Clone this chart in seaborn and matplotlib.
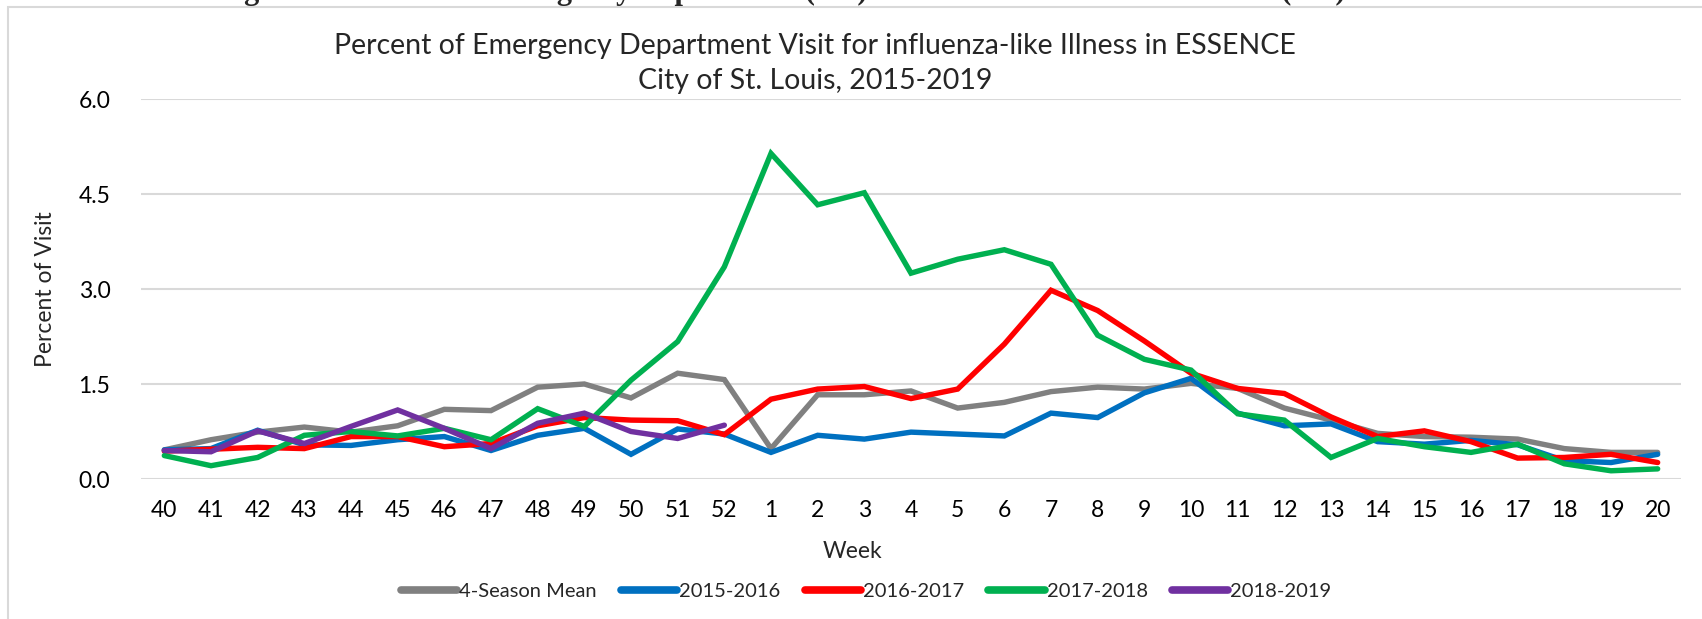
import pandas as pd
import numpy as np
import matplotlib
matplotlib.use("Agg")
import matplotlib.pyplot as plt
import seaborn as sns
from matplotlib.patches import Rectangle

# week labels (flu season week 40 -> week 20)
weeks = ["40", "41", "42", "43", "44", "45", "46", "47", "48", "49", "50", "51", "52",
         "1", "2", "3", "4", "5", "6", "7", "8", "9", "10",
         "11", "12", "13", "14", "15", "16", "17", "18", "19", "20"]

mean_4season = [0.46, 0.62, 0.74, 0.82, 0.74, 0.84, 1.10, 1.08, 1.45, 1.50, 1.28, 1.67, 1.57,
                0.48, 1.33, 1.33, 1.39, 1.12, 1.21, 1.38, 1.45, 1.42, 1.51,
                1.43, 1.12, 0.93, 0.72, 0.67, 0.66, 0.63, 0.48, 0.42, 0.42]
s2015_2016 = [0.46, 0.48, 0.77, 0.54, 0.53, 0.62, 0.67, 0.45, 0.69, 0.80, 0.39, 0.79, 0.71,
              0.42, 0.69, 0.63, 0.74, 0.71, 0.68, 1.04, 0.97, 1.36, 1.59,
              1.04, 0.84, 0.87, 0.59, 0.55, 0.61, 0.54, 0.29, 0.26, 0.39]
s2016_2017 = [0.44, 0.47, 0.50, 0.48, 0.67, 0.67, 0.51, 0.56, 0.84, 0.97, 0.93, 0.92, 0.70,
              1.26, 1.42, 1.46, 1.27, 1.42, 2.13, 2.98, 2.66, 2.18, 1.67,
              1.43, 1.35, 0.98, 0.67, 0.76, 0.59, 0.33, 0.34, 0.39, 0.26]
s2017_2018 = [0.37, 0.21, 0.34, 0.69, 0.75, 0.68, 0.80, 0.62, 1.11, 0.83, 1.56, 2.17, 3.35,
              5.14, 4.33, 4.52, 3.25, 3.47, 3.62, 3.39, 2.27, 1.89, 1.72,
              1.03, 0.93, 0.34, 0.64, 0.51, 0.42, 0.55, 0.24, 0.13, 0.16]
s2018_2019 = [0.45, 0.43, 0.76, 0.56, 0.83, 1.09, 0.80, 0.48, 0.88, 1.04, 0.75, 0.64, 0.85]

series = {
    "4-Season Mean": mean_4season,
    "2015-2016": s2015_2016,
    "2016-2017": s2016_2017,
    "2017-2018": s2017_2018,
    "2018-2019": s2018_2019,
}
colors = {
    "4-Season Mean": "#808080",
    "2015-2016": "#0070C0",
    "2016-2017": "#FF0000",
    "2017-2018": "#00B050",
    "2018-2019": "#7030A0",
}

rows = []
for name, vals in series.items():
    for i, v in enumerate(vals):
        rows.append({"pos": i, "week": weeks[i], "season": name, "pct": v})
df = pd.DataFrame(rows)

sns.set_theme(style="white")
plt.rcParams["font.family"] = ["Lato", "DejaVu Sans"]

fig = plt.figure(figsize=(17.02, 6.19), dpi=100)
ax = fig.add_axes([141 / 1702, 1 - 479 / 619, (1681 - 141) / 1702, (479 - 99) / 619])

sns.lineplot(data=df, x="pos", y="pct", hue="season", palette=colors,
             hue_order=list(series.keys()), linewidth=3.9, ax=ax,
             solid_capstyle="round", solid_joinstyle="miter", legend=False)

ax.set_xlim(-0.5, len(weeks) - 0.5)
ax.set_ylim(0, 6.0)
ax.set_xticks(range(len(weeks)))
ax.set_xticklabels(weeks)
ax.set_yticks([0, 1.5, 3.0, 4.5, 6.0])
ax.set_yticklabels(["0.0", "1.5", "3.0", "4.5", "6.0"])
ax.tick_params(axis="both", length=0, labelsize=16.5, colors="black")
ax.tick_params(axis="x", pad=15)
ax.tick_params(axis="y", pad=22)
ax.yaxis.grid(True, color="#d9d9d9", linewidth=1.5)
ax.set_axisbelow(True)
for sp in ax.spines.values():
    sp.set_visible(False)

ax.set_xlabel("")
ax.set_ylabel("Percent of Visit", fontsize=16.5, labelpad=16)
fig.text(852 / 1702, 1 - 551 / 619, "Week", ha="center", va="center", fontsize=16.5)

fig.text(815 / 1702, 1 - 46 / 619, "Percent of Emergency Department Visit for influenza-like Illness in ESSENCE",
         ha="center", va="center", fontsize=20.5)
fig.text(815 / 1702, 1 - 81 / 619, "City of St. Louis, 2015-2019",
         ha="center", va="center", fontsize=20.5)

# clipped caption at the very top of the page
fig.text(871 / 1702, 1 + 0.5 / 619,
         "Figure 1: Percent of Emergency Department (ED) Visits for Influenza-like Illness (ILI) in ESSENCE",
         ha="center", va="baseline", fontsize=22, fontweight="bold",
         family=["Liberation Serif", "DejaVu Serif"])

# chart area border
fig.patches.append(Rectangle((8 / 1702, -0.1), 1.2, 1 - 7 / 619 + 0.1, transform=fig.transFigure,
                             fill=False, edgecolor="#d9d9d9", linewidth=1.5))

handles = [plt.Line2D([], [], color=colors[n], linewidth=5.5, solid_capstyle="round") for n in series]
fig.legend(handles, list(series.keys()), loc="center", bbox_to_anchor=(866 / 1702, 1 - 591 / 619),
           ncol=5, frameon=False, fontsize=14.5, handlelength=2.8, handletextpad=0.1,
           columnspacing=1.2)

fig.savefig("out.png", dpi=100)
